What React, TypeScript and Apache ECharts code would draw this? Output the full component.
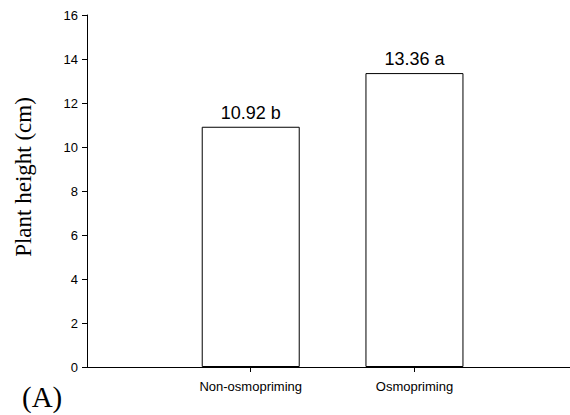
import React, { useEffect, useRef } from "react";
import * as echarts from "echarts";

// Treatment groups and mean plant height (cm) with significance letters
const categories = ["Non-osmopriming", "Osmopriming"];
const heights = [10.92, 13.36];
const letters = ["b", "a"];
const yTicks = [0, 2, 4, 6, 8, 10, 12, 14, 16];

const sans = 'Arial, "Liberation Sans", Helvetica, sans-serif';
const serif = '"Times New Roman", "Liberation Serif", serif';

export default function App() {
  const ref = useRef<HTMLDivElement>(null);

  useEffect(() => {
    if (!ref.current) return;
    const chart = echarts.init(ref.current, null, { renderer: "svg" });

    // bars sit at x = 1, 2 on a numeric axis so the baseline runs past them
    const positions = categories.map((_, i) => i + 1);

    chart.setOption({
      animation: false,
      backgroundColor: "#ffffff",
      grid: { left: 87, right: 0, top: 15, bottom: 48, containLabel: false },
      xAxis: {
        type: "value",
        min: 0,
        max: 2.95,
        splitLine: { show: false },
        axisLine: { show: true, onZero: false, lineStyle: { color: "#000", width: 1 } },
        axisTick: {
          show: true,
          length: 5,
          inside: false,
          customValues: positions,
          lineStyle: { color: "#000" },
        },
        axisLabel: {
          customValues: positions,
          margin: 13,
          color: "#000",
          fontSize: 13,
          fontFamily: sans,
          formatter: (v: number) => categories[Math.round(v) - 1] ?? "",
        },
      },
      yAxis: {
        type: "value",
        min: yTicks[0],
        max: yTicks[yTicks.length - 1],
        interval: yTicks[1] - yTicks[0],
        splitLine: { show: false },
        axisLine: { show: true, lineStyle: { color: "#000", width: 1 } },
        axisTick: { show: true, length: 5, inside: false, lineStyle: { color: "#000" } },
        axisLabel: { margin: 9, color: "#000", fontSize: 13, fontFamily: sans },
      },
      graphic: [
        {
          type: "text",
          x: 23,
          y: 177,
          rotation: Math.PI / 2,
          style: {
            text: "Plant height (cm)",
            font: `23px ${serif}`,
            fill: "#000",
            align: "center",
            verticalAlign: "middle",
          },
        },
        {
          type: "text",
          x: 22,
          y: 397,
          style: {
            text: "(A)",
            font: `29px ${serif}`,
            fill: "#000",
            align: "left",
            verticalAlign: "middle",
          },
        },
      ],
      series: [
        {
          type: "bar",
          barWidth: 98,
          data: heights.map((h, i) => [positions[i], h]),
          itemStyle: { color: "#ffffff", borderColor: "#000", borderWidth: 1 },
          label: {
            show: true,
            position: "top",
            distance: 5,
            color: "#000",
            fontSize: 18,
            fontFamily: sans,
            formatter: (p: any) => `${heights[p.dataIndex].toFixed(2)} ${letters[p.dataIndex]}`,
          },
        },
      ],
    });

    return () => chart.dispose();
  }, []);

  return (
    <div
      ref={ref}
      style={{ position: "fixed", left: 0, top: 0, width: 570, height: 415 }}
    />
  );
}
